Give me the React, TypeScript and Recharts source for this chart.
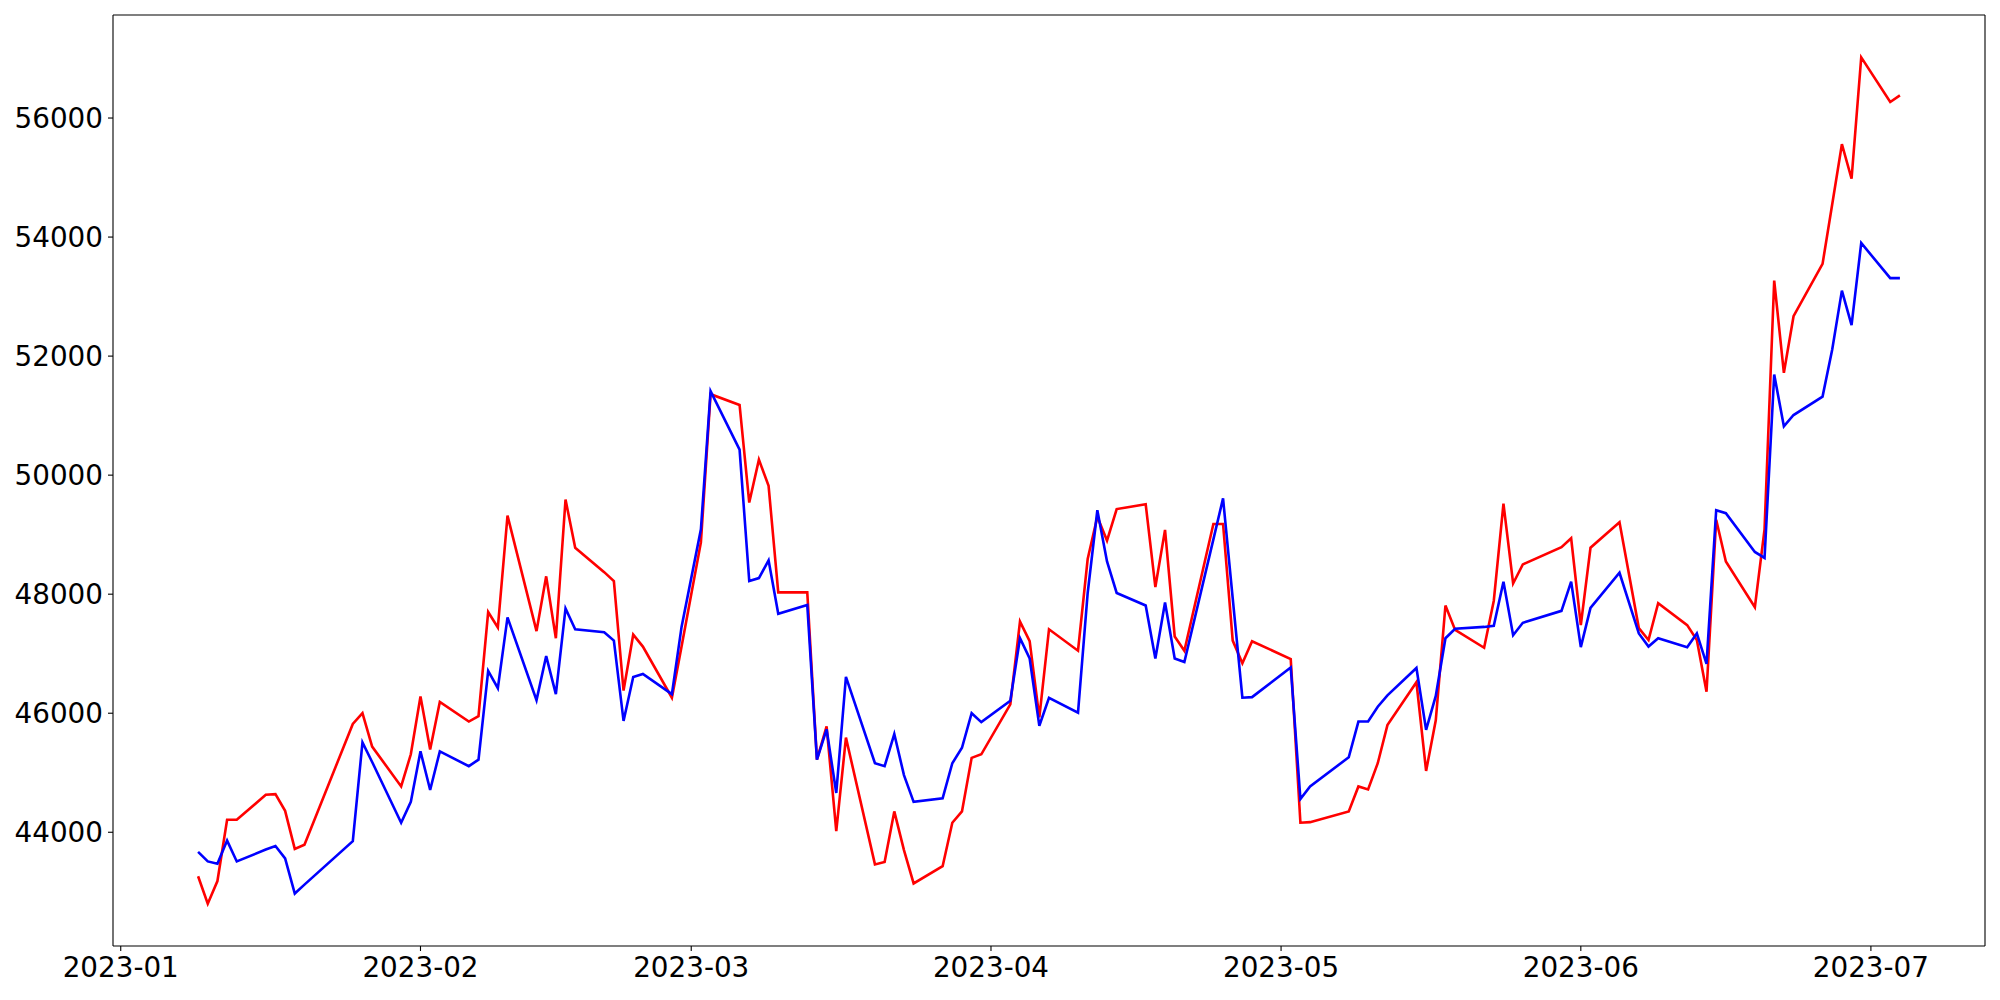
import React from 'react';
import { LineChart, Line, XAxis, YAxis, ReferenceLine } from 'recharts';

// trading days (KRX calendar)
const DATES = [
  '2023-01-09', '2023-01-10', '2023-01-11', '2023-01-12', '2023-01-13',
  '2023-01-16', '2023-01-17', '2023-01-18', '2023-01-19', '2023-01-20',
  '2023-01-25', '2023-01-26', '2023-01-27', '2023-01-30', '2023-01-31',
  '2023-02-01', '2023-02-02', '2023-02-03', '2023-02-06', '2023-02-07',
  '2023-02-08', '2023-02-09', '2023-02-10', '2023-02-13', '2023-02-14',
  '2023-02-15', '2023-02-16', '2023-02-17', '2023-02-20', '2023-02-21',
  '2023-02-22', '2023-02-23', '2023-02-24', '2023-02-27', '2023-02-28',
  '2023-03-02', '2023-03-03', '2023-03-06', '2023-03-07', '2023-03-08',
  '2023-03-09', '2023-03-10', '2023-03-13', '2023-03-14', '2023-03-15',
  '2023-03-16', '2023-03-17', '2023-03-20', '2023-03-21', '2023-03-22',
  '2023-03-23', '2023-03-24', '2023-03-27', '2023-03-28', '2023-03-29',
  '2023-03-30', '2023-03-31', '2023-04-03', '2023-04-04', '2023-04-05',
  '2023-04-06', '2023-04-07', '2023-04-10', '2023-04-11', '2023-04-12',
  '2023-04-13', '2023-04-14', '2023-04-17', '2023-04-18', '2023-04-19',
  '2023-04-20', '2023-04-21', '2023-04-24', '2023-04-25', '2023-04-26',
  '2023-04-27', '2023-04-28', '2023-05-02', '2023-05-03', '2023-05-04',
  '2023-05-08', '2023-05-09', '2023-05-10', '2023-05-11', '2023-05-12',
  '2023-05-15', '2023-05-16', '2023-05-17', '2023-05-18', '2023-05-19',
  '2023-05-22', '2023-05-23', '2023-05-24', '2023-05-25', '2023-05-26',
  '2023-05-30', '2023-05-31', '2023-06-01', '2023-06-02', '2023-06-05',
  '2023-06-07', '2023-06-08', '2023-06-09', '2023-06-12', '2023-06-13',
  '2023-06-14', '2023-06-15', '2023-06-16', '2023-06-19', '2023-06-20',
  '2023-06-21', '2023-06-22', '2023-06-23', '2023-06-26', '2023-06-27',
  '2023-06-28', '2023-06-29', '2023-06-30', '2023-07-03', '2023-07-04',
];

const RED_VALUES = [
  43260, 42800, 43180, 44210, 44210,
  44630, 44640, 44360, 43720, 43790,
  45820, 46000, 45440, 44770, 45310,
  46280, 45390, 46190, 45860, 45950,
  47700, 47440, 49320, 47380, 48300,
  47260, 49590, 48780, 48370, 48220,
  46380, 47320, 47120, 46260, 47120,
  48870, 51360, 51180, 49540, 50260,
  49820, 48030, 48030, 45220, 45780,
  44020, 45590, 43460, 43500, 44350,
  43700, 43140, 43430, 44160, 44350,
  45250, 45310, 46150, 47540, 47210,
  45930, 47410, 47050, 48590, 49300,
  48900, 49430, 49510, 48120, 49080,
  47290, 47050, 49180, 49180, 47220,
  46840, 47210, 46910, 44160, 44170,
  44350, 44770, 44720, 45160, 45800,
  46520, 45030, 45880, 47810, 47400,
  47100, 47890, 49520, 48180, 48500,
  48790, 48940, 47480, 48780, 49210,
  47430, 47230, 47850, 47480, 47230,
  46360, 49250, 48550, 47780, 49090,
  53270, 51720, 52670, 53550, 54550,
  55560, 54980, 57020, 56270, 56380,
];

const BLUE_VALUES = [
  43670, 43510, 43470, 43860, 43510,
  43710, 43770, 43560, 42970, 43120,
  43850, 45510, 45180, 44160, 44510,
  45360, 44710, 45360, 45110, 45220,
  46710, 46420, 47610, 46220, 46960,
  46320, 47760, 47410, 47360, 47220,
  45870, 46610, 46660, 46320, 47450,
  49090, 51410, 50430, 48220, 48270,
  48570, 47670, 47820, 45220, 45730,
  44660, 46610, 45160, 45110, 45650,
  44960, 44510, 44570, 45160, 45420,
  46000, 45850, 46210, 47260, 46920,
  45790, 46260, 46010, 48020, 49410,
  48550, 48020, 47810, 46920, 47860,
  46920, 46860, 48920, 49610, 47930,
  46260, 46270, 46770, 44560, 44770,
  45260, 45860, 45860, 46110, 46300,
  46760, 45720, 46290, 47260, 47420,
  47450, 47470, 48210, 47310, 47520,
  47720, 48210, 47110, 47770, 48360,
  47340, 47120, 47260, 47110, 47340,
  46830, 49410, 49360, 48710, 48610,
  51690, 50820, 51010, 51320, 52110,
  53100, 52520, 53900, 53310, 53310,
];

const MONTH_TICKS = ['2023-01-01', '2023-02-01', '2023-03-01', '2023-04-01', '2023-05-01', '2023-06-01', '2023-07-01'];
const MONTH_LABELS = ['2023-01', '2023-02', '2023-03', '2023-04', '2023-05', '2023-06', '2023-07'];
const Y_TICKS = [44000, 46000, 48000, 50000, 52000, 54000, 56000];

const toDay = (d: string) => {
  const [y, m, dd] = d.split('-').map(Number);
  return (Date.UTC(y, m - 1, dd) - Date.UTC(2023, 0, 1)) / 86400000;
};

const data = DATES.map((d, i) => ({ day: toDay(d), red: RED_VALUES[i], blue: BLUE_VALUES[i] }));

// matplotlib style 5% margins
const pad = (lo: number, hi: number): [number, number] => [lo - (hi - lo) * 0.05, hi + (hi - lo) * 0.05];
const xDomain = pad(data[0].day, data[data.length - 1].day);
const allValues = [...RED_VALUES, ...BLUE_VALUES];
const yDomain = pad(Math.min(...allValues), Math.max(...allValues));

const monthDays = MONTH_TICKS.map(toDay);
const tickStyle = { fill: '#000', fontSize: 27.8, fontFamily: 'DejaVu Sans' };

export default function App() {
  return (
    <div style={{ position: 'absolute', left: 0, top: 0, width: 2000, height: 1000, background: '#fff' }}>
      <LineChart width={2000} height={1000} data={data} margin={{ top: 15, right: 15, bottom: 0, left: 0 }}>
        <XAxis
          dataKey="day"
          type="number"
          domain={xDomain}
          allowDataOverflow
          ticks={monthDays}
          tickFormatter={(v) => MONTH_LABELS[monthDays.indexOf(v)] ?? ''}
          height={54}
          stroke="#000"
          strokeWidth={1.1}
          tickSize={5}
          tickMargin={6}
          tick={tickStyle}
        />
        <YAxis
          type="number"
          domain={yDomain}
          allowDataOverflow
          ticks={Y_TICKS}
          width={113}
          stroke="#000"
          strokeWidth={1.1}
          tickSize={5}
          tickMargin={5}
          tick={tickStyle}
        />
        <ReferenceLine y={yDomain[1]} stroke="#000" strokeWidth={1.1} ifOverflow="visible" />
        <ReferenceLine x={xDomain[1]} stroke="#000" strokeWidth={1.1} ifOverflow="visible" />
        <Line type="linear" dataKey="red" stroke="#ff0000" strokeWidth={2.6} dot={false} isAnimationActive={false} />
        <Line type="linear" dataKey="blue" stroke="#0000ff" strokeWidth={2.6} dot={false} isAnimationActive={false} />
      </LineChart>
    </div>
  );
}
